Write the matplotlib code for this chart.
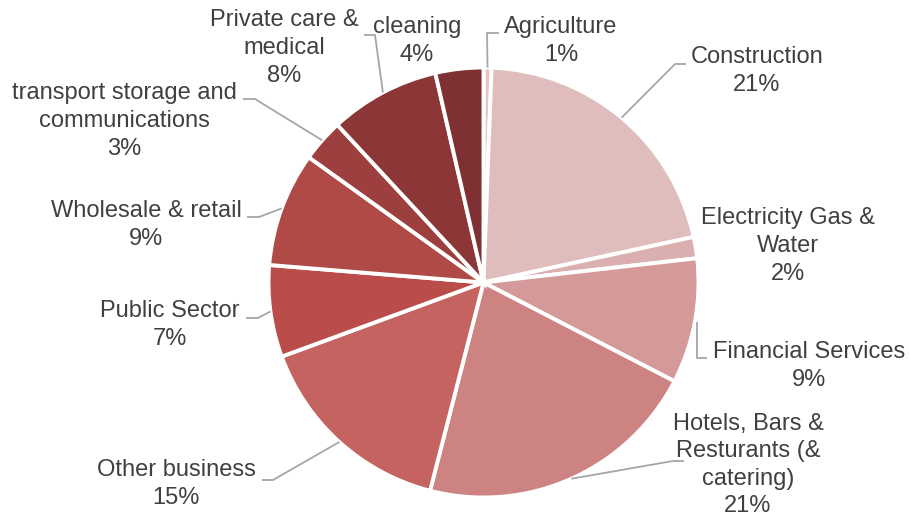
import numpy as np
import matplotlib
matplotlib.use("Agg")
import matplotlib.pyplot as plt

# Employment share by sector (%)
sectors = [
    "Agriculture",
    "Construction",
    "Electricity Gas &\nWater",
    "Financial Services",
    "Hotels, Bars &\nResturants (&\ncatering)",
    "Other business",
    "Public Sector",
    "Wholesale & retail",
    "transport storage and\ncommunications",
    "Private care &\nmedical",
    "cleaning",
]
shares = [0.6, 21.0, 1.6, 9.4, 21.4, 15.4, 6.9, 8.6, 3.2, 8.3, 3.6]
colors = [
    "#E3C6C6", "#E0BDBD", "#DBAFAF", "#D49A99", "#CD8382", "#C4635F",
    "#BA4D4A", "#B04A47", "#9C3F3E", "#8C3637", "#7E3032",
]

W, H = 909, 517
fig = plt.figure(figsize=(W / 100, H / 100), dpi=100)
ax = fig.add_axes([0, 0, 1, 1])

cx, cy, r = 483.5, H - 282.5, 215
wedges, _ = ax.pie(
    shares, colors=colors, startangle=90, counterclock=False,
    center=(cx, cy), radius=r, frame=True,
    wedgeprops=dict(edgecolor="white", linewidth=2.8),
)
ax.set_xlim(0, W)
ax.set_ylim(0, H)
ax.set_aspect("equal")
ax.axis("off")

# label block centres (pixel coords from top-left)
label_pos = [
    (561, 41), (757, 71), (788, 246), (809, 366), (748, 465),
    (176, 484), (170, 325), (146, 225), (124, 121), (284, 48), (417, 41),
]
# leader elbows: points after the rim point (None = no leader)
leaders = [
    [(487, 33), (499, 33)],
    [(675, 64), (686, 64)],
    None,
    [(697, 358), (707, 358)],
    [(673, 461), (684, 461)],
    [(273, 480), (262, 480)],
    [(258, 318), (246, 318)],
    [(259, 217), (247, 217)],
    [(255, 99), (243, 99)],
    [(375, 35), (364, 35)],
    None,
]

text_color = "#404040"
line_color = "#A6A6A6"
font = ["Liberation Sans", "DejaVu Sans"]

for name, val, w, (lx, ly), lead in zip(sectors, shares, wedges, label_pos, leaders):
    ax.text(lx, H - ly, f"{name}\n{val:.0f}%", ha="center", va="center",
            fontsize=17, color=text_color, family=font, linespacing=1.33)
    if lead is not None:
        mid = np.deg2rad((w.theta1 + w.theta2) / 2)
        sx, sy = cx + r * np.cos(mid), cy + r * np.sin(mid)
        if name == "Financial Services":
            sx, sy = lead[0][0], H - 322
        xs = [sx] + [p[0] for p in lead]
        ys = [sy] + [H - p[1] for p in lead]
        ax.plot(xs, ys, color=line_color, linewidth=1.3, solid_capstyle="butt")

fig.savefig("out.png", dpi=100)
